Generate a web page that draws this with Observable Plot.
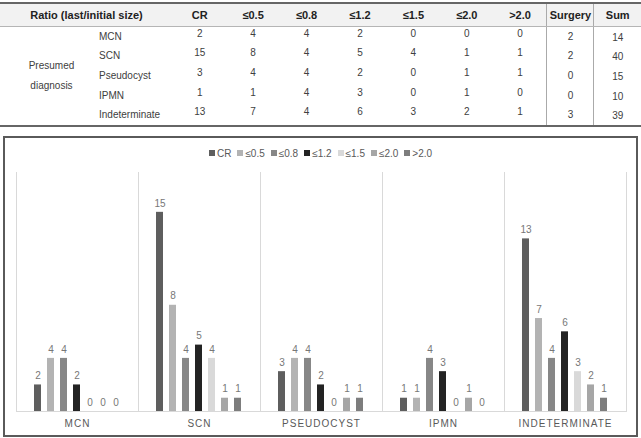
<!DOCTYPE html>
<html><head><meta charset="utf-8">
<script src="https://cdn.jsdelivr.net/npm/d3@7"></script>
<script src="https://cdn.jsdelivr.net/npm/@observablehq/plot@0.6"></script>
<style>
body{margin:0;width:641px;height:438px;background:#fff;font-family:"Liberation Sans",Arial,sans-serif;position:relative;overflow:hidden}
#tbl{position:absolute;left:0;top:2px;width:641px;border-collapse:collapse;table-layout:fixed;font-size:10px;color:#404040}
#tbl th{height:22px;background:#f2f2f2;font-size:11px;font-weight:bold;color:#222;border-top:2px solid #666;border-bottom:1px solid #b5b5b5;padding:0;text-align:center}
#tbl td{height:19.6px;padding:0;text-align:center;line-height:12px}
#tbl tr:last-child td{border-bottom:2px solid #666}
#tbl td.pd{line-height:20px;padding-left:8px;border-bottom:2px solid #666}
#tbl td.nm{text-align:left;padding-left:4px}
#tbl .sep{border-left:1px solid #aaa}
#tbl span.v{position:relative;top:-3px}
#tbl span.s{position:relative;top:1px}
#box{position:absolute;left:3px;top:136px;width:631px;height:297px;border:2px solid #5a5a5a;background:#fff}
#legend{height:30px;display:flex;align-items:center;justify-content:center}
.lg-swatches{font-family:"Liberation Sans",Arial,sans-serif !important;font-size:10px !important;color:#595959;margin:0 !important}
.lg-swatches-wrap{min-height:0 !important;justify-content:center;column-gap:6px}
.lg-swatch{margin-right:0 !important}
.lg-swatch > svg{margin-right:2px !important}
#chart svg g[aria-label="fx-axis tick label"] text{letter-spacing:1px}
</style>
</head><body>
<table id="tbl"><colgroup id="cols"></colgroup><thead><tr id="hdr"></tr></thead><tbody id="tb"></tbody></table>
<div id="box"><div id="legend"></div><div id="chart"></div></div>
<script>
// ---- data ----
const diagnoses = ["MCN", "SCN", "Pseudocyst", "IPMN", "Indeterminate"];
const ratios = ["CR", "≤0.5", "≤0.8", "≤1.2", "≤1.5", "≤2.0", ">2.0"];
const mcnValues = [2, 4, 4, 2, 0, 0, 0];
const scnValues = [15, 8, 4, 5, 4, 1, 1];
const pseudocystValues = [3, 4, 4, 2, 0, 1, 1];
const ipmnValues = [1, 1, 4, 3, 0, 1, 0];
const indeterminateValues = [13, 7, 4, 6, 3, 2, 1];
const surgeryValues = [2, 2, 0, 0, 3];
const sumValues = [14, 40, 15, 10, 39];
const headerLabel = "Ratio (last/initial size)";
const rowGroupLabel = ["Presumed", "diagnosis"];
const barColors = ["#5e5e5e", "#b3b3b3", "#878787", "#232323", "#d9d9d9", "#a6a6a6", "#7d7d7d"];

const valuesByDiagnosis = [mcnValues, scnValues, pseudocystValues, ipmnValues, indeterminateValues];

// ---- table ----
const colWidths = [95, 78, 53.43, 53.43, 53.43, 53.43, 53.43, 53.43, 53.43, 47, 47];
const cols = document.getElementById("cols");
colWidths.forEach(w => { const c = document.createElement("col"); c.style.width = w + "px"; cols.appendChild(c); });
const hdr = document.getElementById("hdr");
hdr.innerHTML = `<th colspan="2">${headerLabel}</th>` + ratios.map(r => `<th>${r}</th>`).join("") +
  `<th class="sep">Surgery</th><th class="sep">Sum</th>`;
const tb = document.getElementById("tb");
diagnoses.forEach((d, i) => {
  const tr = document.createElement("tr");
  let html = "";
  if (i === 0) html += `<td class="pd" rowspan="${diagnoses.length}">${rowGroupLabel.join("<br>")}</td>`;
  html += `<td class="nm">${d}</td>`;
  html += valuesByDiagnosis[i].map(v => `<td><span class="v">${v}</span></td>`).join("");
  html += `<td class="sep">${surgeryValues[i]}</td><td class="sep"><span class="s">${sumValues[i]}</span></td>`;
  tr.innerHTML = html;
  tb.appendChild(tr);
});

// ---- chart ----
const data = diagnoses.flatMap((d, i) => ratios.map((r, j) => ({diagnosis: d, ratio: r, value: valuesByDiagnosis[i][j]})));

document.getElementById("legend").appendChild(Plot.legend({
  color: {domain: ratios, range: barColors},
  legend: "swatches", swatchSize: 6, className: "lg"
}));

const chart = Plot.plot({
  width: 631, height: 267,
  marginTop: 4, marginBottom: 24, marginLeft: 9, marginRight: 9,
  style: {fontFamily: "Liberation Sans, Arial, sans-serif", fontSize: "10px", background: "transparent", overflow: "visible", color: "#595959"},
  fx: {domain: diagnoses, padding: 0, label: null, axis: "bottom", tickSize: 0, tickPadding: 8, tickFormat: d => d.toUpperCase()},
  x: {domain: ratios, paddingInner: 0.46, paddingOuter: 1.15, axis: null},
  y: {domain: [0, 18], axis: null},
  color: {domain: ratios, range: barColors},
  marks: [
    Plot.frame({anchor: "left", stroke: "#d9d9d9"}),
    Plot.frame({anchor: "right", stroke: "#d9d9d9"}),
    Plot.ruleY([0], {stroke: "#d9d9d9"}),
    Plot.barY(data, {fx: "diagnosis", x: "ratio", y: "value", fill: "ratio"}),
    Plot.text(data, {fx: "diagnosis", x: "ratio", y: "value", text: d => String(d.value), dy: -9, fill: "#777", fontSize: 10})
  ]
});
document.getElementById("chart").appendChild(chart);
</script>
</body></html>
